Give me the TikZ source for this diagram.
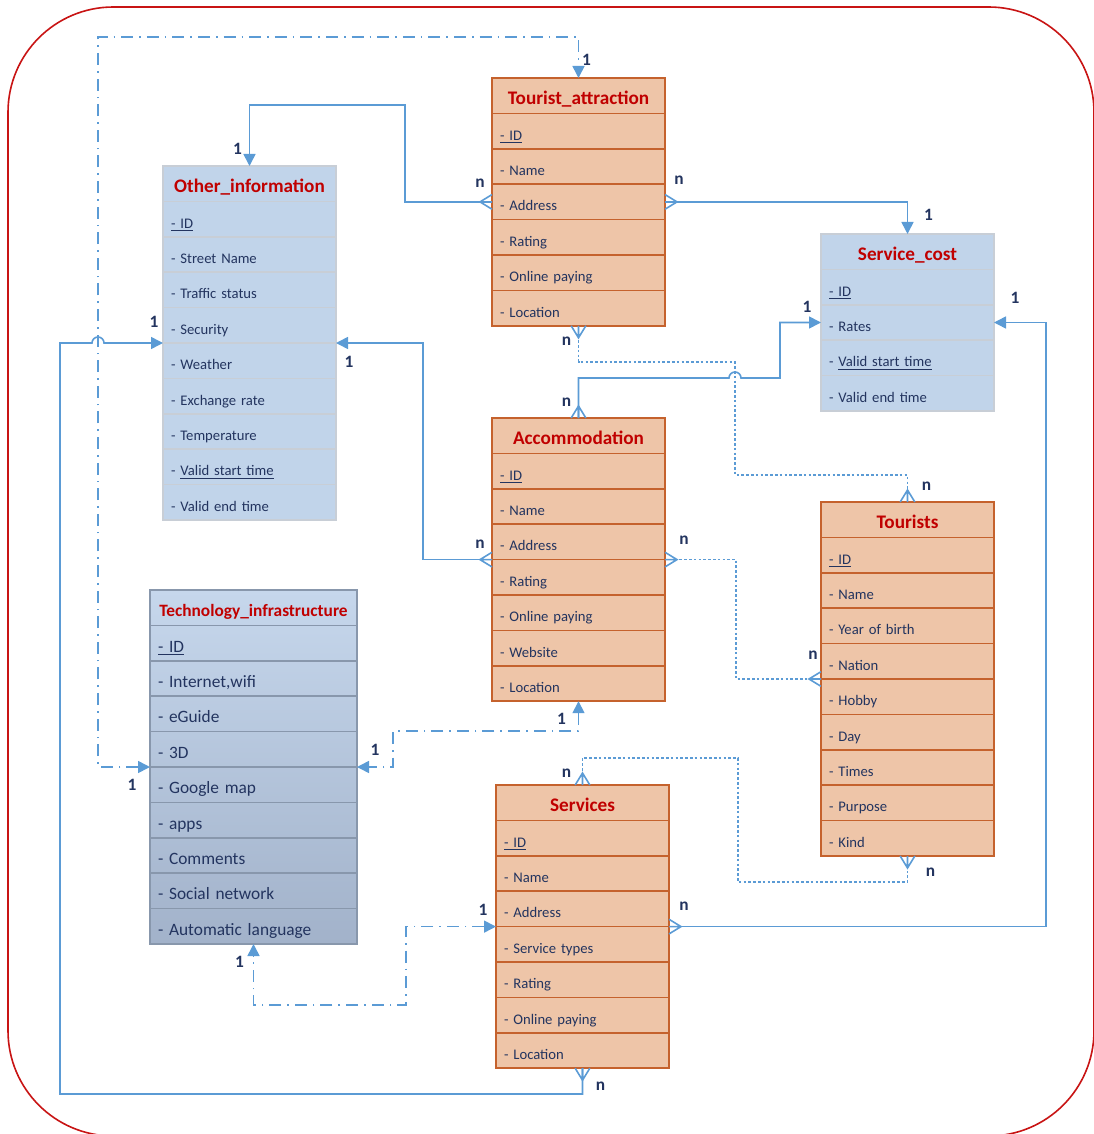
\documentclass[tikz,border=0pt]{standalone}
\usepackage{fontspec}
\setmainfont{Carlito}
\usetikzlibrary{arrows.meta, calc}

\definecolor{titlered}{RGB}{192,0,0}
\definecolor{itemblue}{RGB}{35,52,95}
\definecolor{linkblue}{RGB}{91,155,213}
\definecolor{orangefill}{RGB}{238,197,168}
\definecolor{orangeline}{RGB}{197,98,45}
\definecolor{bluefill}{RGB}{193,212,234}
\definecolor{blueline}{RGB}{200,206,214}
\definecolor{techtop}{RGB}{198,215,236}
\definecolor{techbottom}{RGB}{162,178,202}
\definecolor{techline}{RGB}{136,151,172}
\definecolor{framered}{RGB}{200,20,20}

% crow's foot: toes on the table, line runs through to it
\pgfdeclarearrow{
  name=Crow,
  parameters={\the\pgfarrowlength,\the\pgfarrowwidth},
  setup code={
    \pgfarrowssettipend{0pt}
    \pgfarrowssetlineend{0pt}
    \pgfarrowssetbackend{-\pgfarrowlength}
    \pgfarrowssavethe\pgfarrowlength
    \pgfarrowssavethe\pgfarrowwidth
  },
  drawing code={
    \pgfsetdash{}{0pt}
    \pgfpathmoveto{\pgfqpoint{0pt}{.5\pgfarrowwidth}}
    \pgfpathlineto{\pgfqpoint{-\pgfarrowlength}{0pt}}
    \pgfpathlineto{\pgfqpoint{0pt}{-.5\pgfarrowwidth}}
    \pgfpathmoveto{\pgfqpoint{0pt}{0pt}}
    \pgfpathlineto{\pgfqpoint{-\pgfarrowlength}{0pt}}
    \pgfusepathqstroke
  },
  defaults={length=9pt, width=11pt}
}

\tikzset{
  row/.style={rectangle, anchor=north west, outer sep=0pt, inner xsep=6pt, inner ysep=0pt,
    minimum height=26.55pt, text width=117.75pt, text height=13.5pt, text depth=0pt,
    align=left, line width=1.2pt, text=itemblue, font=\fontsize{11}{13}\selectfont},
  orangebox/.style={row, fill=orangefill, draw=orangeline},
  bluebox/.style={row, fill=bluefill, draw=blueline},
  techbox/.style={row, draw=techline, text width=143.25pt, font=\fontsize{13}{15}\selectfont},
  link/.style={draw=linkblue, line width=1.2pt},
  dotline/.style={link, dash pattern=on 2pt off 1.6pt},
  dashdot/.style={link, dash pattern=on 9pt off 4.5pt on 1.2pt off 4.5pt},
  crow/.tip={Crow},
  tri/.tip={Triangle[length=9pt, width=9pt]},
  card/.style={text=itemblue, font=\bfseries\fontsize{13}{15}\selectfont, inner sep=0pt},
}

% one table: name, top left corner, style, title size, title, rows
\newcommand{\entity}[6]{%
  \node[#3, font=\bfseries\fontsize{#4}{#4}\selectfont, text=titlered, align=center] (#1-0) at #2 {#5};
  \foreach \row [count=\i] in {#6} {
    \pgfmathtruncatemacro\j{\i-1}
    \node[#3] (#1-\i) at (#1-\j.south west) {\row};
  }
}

\begin{document}
\begin{tikzpicture}[x=0.75pt, y=-0.75pt]
    \useasboundingbox (0,0) rectangle (1093,1134);
    \draw[framered, line width=1.2pt, rounded corners=79pt] (8,7) rectangle (1094,1136);

    % Tables
    \entity{ta}{(492,78)}{orangebox}{14.4}{Tourist\_attraction}
      {\underline{- ID}, - Name, - Address, - Rating, - Online paying, - Location}
    \entity{oi}{(163,166)}{bluebox}{14.4}{Other\_information}
      {\underline{- ID}, - Street Name, - Traffic status, - Security, - Weather,
       - Exchange rate, - Temperature, - \underline{Valid start time}, - Valid end time}
    \entity{sc}{(821,234)}{bluebox}{14.4}{Service\_cost}
      {\underline{- ID}, - Rates, - \underline{Valid start time}, - Valid end time}
    \entity{ac}{(492,418)}{orangebox}{14.4}{Accommodation}
      {\underline{- ID}, - Name, - Address, - Rating, - Online paying, - Website, - Location}
    \entity{to}{(821,502)}{orangebox}{14.4}{Tourists}
      {\underline{- ID}, - Name, - Year of birth, - Nation, - Hobby, - Day, - Times, - Purpose, - Kind}
    \shade[top color=techtop, bottom color=techbottom] (150,590) rectangle (357,944);
    \entity{ti}{(150,590)}{techbox}{13}{Technology\_infrastructure}
      {\underline{- ID}, {- Internet,wifi}, - eGuide, - 3D, - Google map, - apps,
       - Comments, - Social network, - Automatic language}
    \entity{sv}{(496,785)}{orangebox}{14.4}{Services}
      {\underline{- ID}, - Name, - Address, - Service types, - Rating, - Online paying, - Location}

    % Bends
    \coordinate (ta2oi) at (405,105);
    \coordinate (ti2ta) at (98,37);
    \coordinate (sv2oi) at (60,1094);
    \coordinate (ac2oi) at ($(oi-4.south east)+(87,0)$);
    \coordinate (ac2sc) at ($(sc-2.west)+(-41,0)$);
    \coordinate (hopac) at (729,378);
    \coordinate (ta2to) at (735,362);
    \coordinate (ta2tob) at (735,475);
    \coordinate (ac2to) at ($(to-4.south west)+(-85,0)$);
    \coordinate (ac2ti) at (393,731);
    \coordinate (sv2to) at (738,758);
    \coordinate (sv2tob) at (738,882);
    \coordinate (sv2sc) at ($(sc-2.east)+(52,0)$);
    \coordinate (sv2ti) at (406,1005);

    % Solid links
    \draw[link, crow-tri] (ta-3.west) node[card, shift={(-12,-19)}] (l1a) {n}
      -| (ta2oi) -| (oi-0.north) node[card, shift={(-12,-17)}] (l1b) {1};
    \draw[link, crow-tri] (ta-3.east) node[card, shift={(14,-22)}] (l2a) {n}
      -| (sc-0.north) node[card, shift={(21,-19)}] (l2b) {1};
    \draw[link, crow-tri] (sv-7.south) node[card, shift={(18,18)}] (l4a) {n}
      |- (sv2oi) |- ($(ti2ta |- oi-4.south west)+(-6,0)$) arc[start angle=180, end angle=360, radius=6]
      -- (oi-4.south west) node[card, shift={(-9,-21)}] (l4b) {1};
    \draw[link, crow-tri] (ac-3.south west) node[card, shift={(-12,-15)}] (l5a) {n}
      -| (ac2oi) -- (oi-4.south east) node[card, shift={(13,19)}] (l5b) {1};
    \draw[link, crow-tri] (ac-0.north) node[card, shift={(-12,-16)}] (l6a) {n}
      |- (hopac) arc[start angle=180, end angle=360, radius=6]
      -| (ac2sc) -- (sc-2.west) node[card, shift={(-14,-16)}] (l6b) {1};
    \draw[link, crow-tri] (sv-3.south east) node[card, shift={(15,-20)}] (l11a) {n}
      -| (sv2sc) -- (sc-2.east) node[card, shift={(21,-25)}] (l11b) {1};

    % Dotted links
    \draw[dotline, crow-crow] (ta-6.south) node[card, shift={(-12,15)}] (l7a) {n}
      |- (ta2to) -- (ta2tob) -| (to-0.north) node[card, shift={(19,-16)}] (l7b) {n};
    \draw[dotline, crow-crow] (ac-3.south east) node[card, shift={(19,-19)}] (l8a) {n}
      -| (ac2to) -- (to-4.south west) node[card, shift={(-8,-24)}] (l8b) {n};
    \draw[dotline, crow-crow] (sv-0.north) node[card, shift={(-16,-12)}] (l10a) {n}
      |- (sv2to) -- (sv2tob) -| (to-9.south) node[card, shift={(23,16)}] (l10b) {n};

    % Dash-dot links
    \draw[dashdot, tri-tri] (ti-4.south west) node[card, shift={(-18,18)}] (l3a) {1}
      -| (ti2ta) -| (ta-0.north) node[card, shift={(8,-18)}] (l3b) {1};
    \draw[dashdot, tri-tri] (ac-7.south) node[card, shift={(-17,18)}] (l9a) {1}
      |- (ac2ti) |- (ti-4.south east) node[card, shift={(18,-17)}] (l9b) {1};
    \draw[dashdot, tri-tri] (sv-3.south west) node[card, shift={(-13,-17)}] (l12a) {1}
      -| (sv2ti) -| (ti-9.south) node[card, shift={(-14,18)}] (l12b) {1};
\end{tikzpicture}
\end{document}
